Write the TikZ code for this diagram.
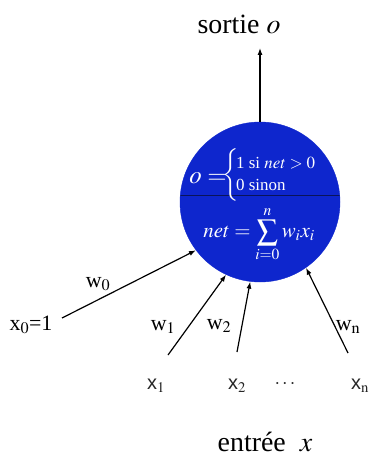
\documentclass[tikz,border=0pt]{standalone}
\usepackage{mathptmx}
\usepackage{fontspec}
\setmainfont{Liberation Serif}
\setsansfont{Liberation Sans}
\usetikzlibrary{arrows.meta}
\definecolor{neuronblue}{RGB}{14,38,205}
\definecolor{divider}{RGB}{10,20,90}
\tikzset{
  conn/.style={line width=1.2bp, -{Latex[length=7bp,width=5bp]}},
  lab/.style={font=\fontsize{22}{24}\selectfont, inner sep=0pt},
  xlab/.style={font=\sffamily\fontsize{20}{22}\selectfont, inner sep=0pt, text=black!85},
  title/.style={font=\fontsize{28}{30}\selectfont, inner sep=0pt},
  intext/.style={text=white, inner sep=0pt}
}
\begin{document}
\begin{tikzpicture}[x=1bp,y=-1bp]
\useasboundingbox (0,0) rectangle (371,457);
% neuron
\node[circle, fill=neuronblue, draw=neuronblue, minimum size=160bp, inner sep=0pt] (neuron) at (260,202) {};
\begin{scope}
  \clip (260,202) circle (80bp);
  \draw[divider, line width=1bp] (170,196) -- (350,196);
  % inside texts
  \node[intext, font=\fontsize{25}{25}\selectfont] (oeq) at (208,178) {$o=$};
  \node[intext, font=\fontsize{22}{22}\selectfont] (brace) at (231,175) {$\left\{\vrule height 17bp depth 17bp width 0pt\right.$};
  \node[intext, anchor=west, font=\fontsize{17}{17}\selectfont] (line1) at (236,163) {1 si $net>0$};
  \node[intext, anchor=west, font=\fontsize{17}{17}\selectfont] (line2) at (236,185) {0 sinon};
\end{scope}
\node[intext, font=\fontsize{21}{21}\selectfont] (net) at (259,234) {$\displaystyle net=\sum_{i=0}^{n} w_i x_i$};
% output
\coordinate (out) at (260,48);
\draw[conn] (neuron.north) -- (out);
\node[title] (sortie) at (239,24) {sortie $o$};
% inputs
\coordinate (s0) at (62,318);
\coordinate (s1) at (168,355);
\coordinate (s2) at (237,352);
\coordinate (sn) at (348,353);
\draw[conn] (s0) -- (neuron.217.6);
\draw[conn] (s1) -- (neuron.245.7);
\draw[conn] (s2) -- (neuron.263);
\draw[conn] (sn) -- (neuron.305.5);
\node[lab] (x0) at (31,325) {x$_0$=1};
\node[lab] (w0) at (98,284) {w$_0$};
\node[lab] (w1) at (163,327) {w$_1$};
\node[lab] (w2) at (219,326) {w$_2$};
\node[lab] (wn) at (348,327) {w$_\mathrm{n}$};
\node[xlab] (x1) at (156,386) {x$_1$};
\node[xlab] (x2) at (237,386) {x$_2$};
\node[xlab] (dots) at (285,384) {$\cdots$};
\node[xlab] (xn) at (360,386) {x$_\mathrm{n}$};
\node[title] (entree) at (265,442) {entrée~~$x$};
\end{tikzpicture}
\end{document}
